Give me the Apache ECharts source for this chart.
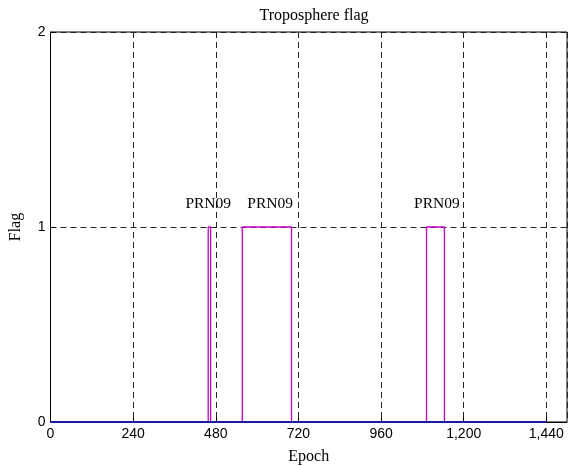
<!DOCTYPE html>
<html>
<head>
<meta charset="utf-8">
<script src="https://cdn.jsdelivr.net/npm/echarts@6/dist/echarts.min.js"></script>
<style>
  html, body { margin: 0; padding: 0; background: #fff; }
  #chart { width: 575px; height: 466px; }
</style>
</head>
<body>
<div id="chart"></div>
<script>
// Troposphere flag per epoch (step trace of PRN09 flag)
const flagEpochs = [0, 458, 458, 465, 465, 557, 557, 700, 700, 1092, 1092, 1144, 1144, 1440];
const flagValues = [0, 0, 1, 1, 0, 0, 1, 1, 0, 0, 1, 1, 0, 0];

// Baseline trace (all other satellites, flag 0)
const baseEpochs = [0, 1440];
const baseValues = [0, 0];

// Satellite annotations
const labelTexts = ['PRN09', 'PRN09', 'PRN09'];
const labelEpochs = [458, 638, 1122];
const labelValues = [1.12, 1.12, 1.12];

const xTicks = [0, 240, 480, 720, 960, 1200, 1440];
const yTicks = [0, 1, 2];

const serif = '"Liberation Serif", "DejaVu Serif", serif';
const sans = '"Liberation Sans", Arial, sans-serif';
const gridLine = { show: true, lineStyle: { color: '#222', width: 1, type: [6, 4] } };

const chart = echarts.init(document.getElementById('chart'), null, { renderer: 'canvas' });
chart.setOption({
  animation: false,
  backgroundColor: '#fff',
  title: {
    text: 'Troposphere flag',
    left: 309, top: 3, textAlign: 'center',
    textStyle: { fontFamily: serif, fontSize: 16, fontWeight: 'normal', color: '#000' }
  },
  grid: {
    left: 50.5, right: 8, top: 32, bottom: 44,
    outerBoundsMode: 'none', containLabel: false,
    show: true, borderColor: '#000', borderWidth: 1
  },
  xAxis: {
    type: 'value', min: 0, max: 1500, interval: 240,
    name: 'Epoch', nameLocation: 'middle', nameGap: 27,
    nameTextStyle: { fontFamily: serif, fontSize: 16, color: '#000' },
    axisLine: { show: true, lineStyle: { color: '#000' } },
    axisTick: { show: true, inside: true, length: 5, lineStyle: { color: '#000' } },
    axisLabel: {
      color: '#000', fontFamily: sans, fontSize: 14, margin: 5,
      showMaxLabel: false,
      formatter: v => xTicks.includes(v) ? v.toLocaleString('en-US') : ''
    },
    splitLine: gridLine
  },
  yAxis: {
    type: 'value', min: 0, max: 2, interval: 1,
    name: 'Flag', nameLocation: 'middle', nameGap: 27,
    nameTextStyle: { fontFamily: serif, fontSize: 16, color: '#000' },
    axisLine: { show: true, lineStyle: { color: '#000' } },
    axisTick: { show: true, inside: true, length: 5, lineStyle: { color: '#000' } },
    axisLabel: {
      color: '#000', fontFamily: sans, fontSize: 14, margin: 5,
      formatter: v => yTicks.includes(v) ? String(v) : ''
    },
    splitLine: gridLine
  },
  series: [
    {
      name: 'PRN09',
      type: 'line',
      data: flagEpochs.map((e, i) => [e, flagValues[i]]),
      showSymbol: false,
      lineStyle: { color: '#c800c8', width: 1.3 },
      z: 3
    },
    {
      name: 'baseline',
      type: 'line',
      data: baseEpochs.map((e, i) => [e, baseValues[i]]),
      showSymbol: false,
      lineStyle: { color: '#1a1aa0', width: 2 },
      z: 4
    },
    {
      name: 'labels',
      type: 'scatter',
      data: labelEpochs.map((e, i) => ({ value: [e, labelValues[i]], name: labelTexts[i] })),
      symbolSize: 0,
      itemStyle: { opacity: 1 },
      label: {
        show: true, position: 'inside', formatter: p => p.name,
        fontFamily: serif, fontSize: 15.5, color: '#000', opacity: 1
      },
      z: 5
    }
  ]
});
</script>
</body>
</html>
